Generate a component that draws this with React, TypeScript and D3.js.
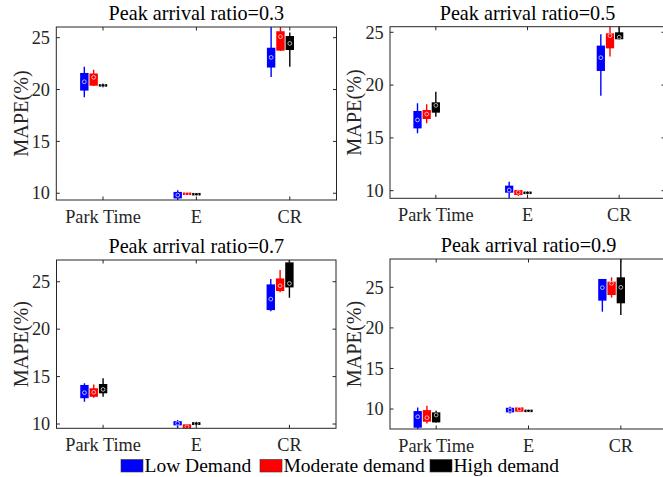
import React from "react";
import * as d3 from "d3";

// ---------- data ----------
const categories = ["Park Time", "E", "CR"];
const groups = ["Low Demand", "Moderate demand", "High demand"];
const groupColors = ["#0000ff", "#ff0000", "#000000"];
const yTicks = [10, 15, 20, 25];
const titles = [
  "Peak arrival ratio=0.3",
  "Peak arrival ratio=0.5",
  "Peak arrival ratio=0.7",
  "Peak arrival ratio=0.9",
];
// each entry: [whiskerLow, q1, median, q3, whiskerHigh] per category
const r03Low = [[19.25, 19.9, 20.75, 21.6, 22.2], [9.3, 9.5, 9.82, 10.13, 10.3], [21.2, 22.12, 23.1, 24.03, 26.5]];
const r03Mod = [[20.35, 20.37, 21.18, 21.55, 21.9], [9.85, 9.88, 9.95, 10.02, 10.05], [23.72, 23.75, 25.1, 25.62, 26.5]];
const r03High = [[20.2, 20.3, 20.4, 20.5, 20.6], [9.82, 9.85, 9.9, 9.97, 10.0], [22.2, 23.81, 24.45, 25.16, 25.5]];

const r05Low = [[15.43, 15.9, 16.7, 17.55, 18.27], [9.27, 9.81, 10.06, 10.48, 10.85], [19.0, 21.34, 22.6, 23.74, 24.81]];
const r05Mod = [[16.38, 16.79, 17.26, 17.64, 18.18], [9.5, 9.59, 9.84, 10.06, 10.1], [22.7, 23.48, 24.68, 24.9, 25.7]];
const r05High = [[17.01, 17.39, 18.08, 18.37, 19.38], [9.65, 9.7, 9.81, 9.9, 9.95], [24.3, 24.34, 24.53, 25.0, 25.6]];

const r07Low = [[12.36, 12.72, 13.3, 14.12, 14.3], [9.4, 9.86, 10.07, 10.3, 10.42], [21.9, 22.01, 23.17, 24.72, 25.28]];
const r07Mod = [[12.78, 12.87, 13.35, 13.77, 14.18], [9.4, 9.44, 9.72, 9.97, 10.0], [23.88, 24.02, 24.58, 25.35, 26.23]];
const r07High = [[12.88, 13.24, 13.65, 14.22, 14.83], [9.86, 9.9, 10.05, 10.2, 10.24], [23.31, 24.4, 24.82, 27.04, 27.5]];

const r09Low = [[7.4, 7.7, 9.05, 9.75, 10.2], [9.46, 9.59, 9.87, 10.16, 10.29], [22.0, 23.36, 24.96, 26.03, 26.03]];
const r09Mod = [[8.23, 8.44, 8.93, 9.87, 10.41], [9.67, 9.67, 10.0, 10.2, 10.2], [23.73, 24.05, 25.49, 25.7, 26.23]];
const r09High = [[8.35, 8.35, 9.26, 9.59, 9.79], [9.65, 9.7, 9.8, 9.85, 9.9], [21.59, 23.03, 25.0, 26.23, 28.6]];

const panelData = [
  [r03Low, r03Mod, r03High],
  [r05Low, r05Mod, r05High],
  [r07Low, r07Mod, r07High],
  [r09Low, r09Mod, r09High],
];
const yDomains = [
  [9.35, 26.03],
  [9.28, 25.53],
  [9.55, 27.29],
  [7.54, 28.49],
];
const groupOffsets = [-0.2, -0.1, 0];

// ---------- layout ----------
const W = 663;
const H = 477;
const panelBoxes = [
  { x0: 56.3, x1: 336.5, y0: 27, y1: 200 },
  { x0: 390, x1: 665, y0: 26.7, y1: 198.3 },
  { x0: 56.5, x1: 336, y0: 260, y1: 428.3 },
  { x0: 390, x1: 667, y0: 259, y1: 429 },
];
const FONT = "'Liberation Serif', 'Times New Roman', serif";
const AX = "#262626";

function Panel({ idx }: { idx: number }) {
  const b = panelBoxes[idx];
  const x = d3.scaleLinear().domain([0.5, 3.5]).range([b.x0, b.x1]);
  const y = d3.scaleLinear().domain(yDomains[idx]).range([b.y1, b.y0]);
  const unit = x(1) - x(0);
  const boxW = 0.09 * unit;
  const clipId = `clip${idx}`;
  const tl = 3.5;
  return (
    <g>
      <defs>
        <clipPath id={clipId}>
          <rect x={b.x0} y={b.y0} width={b.x1 - b.x0} height={b.y1 - b.y0} />
        </clipPath>
      </defs>
      <rect x={b.x0} y={b.y0} width={b.x1 - b.x0} height={b.y1 - b.y0} fill="#fff" />
      <g clipPath={`url(#${clipId})`}>
        {panelData[idx].map((series, gi) =>
          series.map((s, ci) => {
            const cx = x(ci + 1 + groupOffsets[gi]);
            const [lo, q1, med, q3, hi] = s;
            const col = groupColors[gi];
            const top = y(q3);
            const bh = Math.max(y(q1) - y(q3), 2.5);
            return (
              <g key={`${gi}-${ci}`}>
                <line x1={cx} x2={cx} y1={y(lo)} y2={y(hi)} stroke={col} strokeWidth={1.4} />
                <rect x={cx - boxW / 2} y={top - (bh - (y(q1) - y(q3))) / 2} width={boxW} height={bh} fill={col} />
                <circle cx={cx} cy={y(med)} r={1.9} fill="none" stroke="#fff" strokeOpacity={0.75} strokeWidth={0.9} />
              </g>
            );
          })
        )}
      </g>
      {/* frame */}
      <rect x={b.x0} y={b.y0} width={b.x1 - b.x0} height={b.y1 - b.y0} fill="none" stroke={AX} strokeWidth={1} />
      {/* x ticks */}
      {categories.map((c, i) => (
        <g key={c}>
          <line x1={x(i + 1)} x2={x(i + 1)} y1={b.y1} y2={b.y1 - tl} stroke={AX} />
          <line x1={x(i + 1)} x2={x(i + 1)} y1={b.y0} y2={b.y0 + tl} stroke={AX} />
          <text x={x(i + 1)} y={b.y1 + 22.8} textAnchor="middle" fontSize={18.3} fill={AX} fontFamily={FONT}>
            {c}
          </text>
        </g>
      ))}
      {/* y ticks */}
      {yTicks.map((t) => (
        <g key={t}>
          <line x1={b.x0} x2={b.x0 + tl} y1={y(t)} y2={y(t)} stroke={AX} />
          <line x1={b.x1} x2={b.x1 - tl} y1={y(t)} y2={y(t)} stroke={AX} />
          <text x={b.x0 - 6.3} y={y(t)} dy="0.34em" textAnchor="end" fontSize={18.3} fill={AX} fontFamily={FONT}>
            {t}
          </text>
        </g>
      ))}
      <text
        transform={`translate(${b.x0 - 28.7},${(b.y0 + b.y1) / 2}) rotate(-90)`}
        textAnchor="middle"
        fontSize={20.2}
        fill={AX}
        fontFamily={FONT}
      >
        MAPE(%)
      </text>
      <text x={(x(0.5) + x(3.5)) / 2} y={b.y0 - 7.2} textAnchor="middle" fontSize={20.2} fill="#000" fontFamily={FONT}>
        {titles[idx]}
      </text>
    </g>
  );
}

const legendX = [121, 260, 430];

export default function App() {
  return (
    <svg
      width={W}
      height={H}
      style={{ position: "absolute", left: 0, top: 0, background: "#fff" }}
    >
      <rect x={0} y={0} width={W} height={H} fill="#fff" />
      {[0, 1, 2, 3].map((i) => (
        <Panel key={i} idx={i} />
      ))}
      {groups.map((g, i) => (
        <g key={g}>
          <rect x={legendX[i]} y={459.5} width={22} height={12.5} fill={groupColors[i]} stroke="#333" strokeWidth={0.6} />
          <text x={legendX[i] + 23.5} y={472.3} fontSize={19.5} fill="#000" fontFamily={FONT}>
            {g}
          </text>
        </g>
      ))}
    </svg>
  );
}
